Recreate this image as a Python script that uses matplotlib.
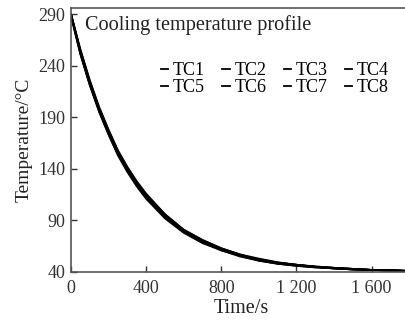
import matplotlib
matplotlib.use("Agg")
import matplotlib.pyplot as plt

# time axis (s)
time_s = [0, 50, 100, 150, 200, 250, 300, 350, 400, 500, 600, 700, 800, 900,
          1000, 1100, 1200, 1300, 1400, 1500, 1600, 1700, 1800]

# thermocouple readings (deg C)
tc1 = [290, 254, 224, 198, 176, 156, 140, 126, 114, 95, 80, 70, 62, 56, 52, 49, 47, 45, 44, 43, 42, 41.5, 41]
tc2 = [290, 252, 222, 196, 174, 154, 138, 124, 112, 93, 79, 69, 61, 56, 51, 48, 46, 44.5, 43.5, 42.5, 42, 41.5, 41]
tc3 = [289, 255, 225, 199, 177, 157, 141, 127, 115, 96, 81, 71, 63, 57, 52, 49, 47, 45, 44, 43, 42, 41.5, 41]
tc4 = [290, 253, 223, 197, 175, 155, 139, 125, 113, 94, 80, 69, 62, 56, 51.5, 48.5, 46.5, 45, 43.5, 42.5, 42, 41.5, 41]
tc5 = [288, 251, 221, 195, 173, 153, 137, 123, 111, 92, 78, 68, 61, 55, 51, 48, 46, 44.5, 43.5, 42.5, 42, 41.5, 41]
tc6 = [290, 256, 226, 200, 178, 158, 142, 128, 116, 96, 81, 71, 63, 57, 53, 49.5, 47, 45.5, 44, 43, 42, 41.5, 41]
tc7 = [289, 252, 222, 197, 175, 155, 139, 125, 113, 94, 79, 69, 62, 56, 51.5, 48.5, 46.5, 45, 43.5, 42.5, 42, 41.5, 41]
tc8 = [290, 254, 224, 198, 176, 156, 140, 126, 114, 95, 80, 70, 62, 56, 52, 49, 47, 45, 44, 43, 42, 41.5, 41]

series = [tc1, tc2, tc3, tc4, tc5, tc6, tc7, tc8]
labels = ["TC1", "TC2", "TC3", "TC4", "TC5", "TC6", "TC7", "TC8"]

x_ticks = [0, 400, 800, 1200, 1600]
x_tick_labels = ["0", "400", "800", "1 200", "1 600"]
y_ticks = [40, 90, 140, 190, 240, 290]

plt.rcParams['font.family'] = ['Liberation Serif', 'DejaVu Serif']

fig = plt.figure(figsize=(4.06, 3.2), dpi=100)
ax = fig.add_axes([71 / 406, 48 / 320, 340 / 406, 264 / 320])

lines = []
for vals, lab in zip(series, labels):
    ln, = ax.plot(time_s, vals, color='black', lw=1.3, label=lab)
    lines.append(ln)

ax.set_xlim(0, 1810)
ax.set_ylim(40, 296)
ax.set_xticks(x_ticks)
ax.set_xticklabels(x_tick_labels)
ax.set_yticks(y_ticks)
ax.tick_params(direction='in', length=4, width=1, labelsize=13, colors='#333333')
ax.tick_params(axis='x', pad=6)
ax.tick_params(axis='y', pad=4)

for side in ['left', 'bottom', 'top']:
    ax.spines[side].set_color('#555555')
    ax.spines[side].set_linewidth(1.2)
ax.spines['right'].set_visible(False)

ax.set_xlabel("Time/s", fontsize=14.5, color='#222222', labelpad=1)
ax.set_ylabel("Temperature/°C", fontsize=14, color='#222222', labelpad=4)

ax.text(0.041, 0.973, "Cooling temperature profile", transform=ax.transAxes,
        fontsize=14.6, color='#222222', va='top', ha='left')

# legend filled row by row: TC1-TC4 on top, TC5-TC8 below
order = [0, 4, 1, 5, 2, 6, 3, 7]
ax.legend([lines[i] for i in order], [labels[i] for i in order],
          ncol=4, frameon=False, fontsize=13, handlelength=0.4,
          handletextpad=0.25, columnspacing=0.97, labelspacing=0.0,
          loc='upper left', bbox_to_anchor=(0.265, 0.795),
          borderaxespad=0, borderpad=0)

fig.savefig("out.png", dpi=100)
